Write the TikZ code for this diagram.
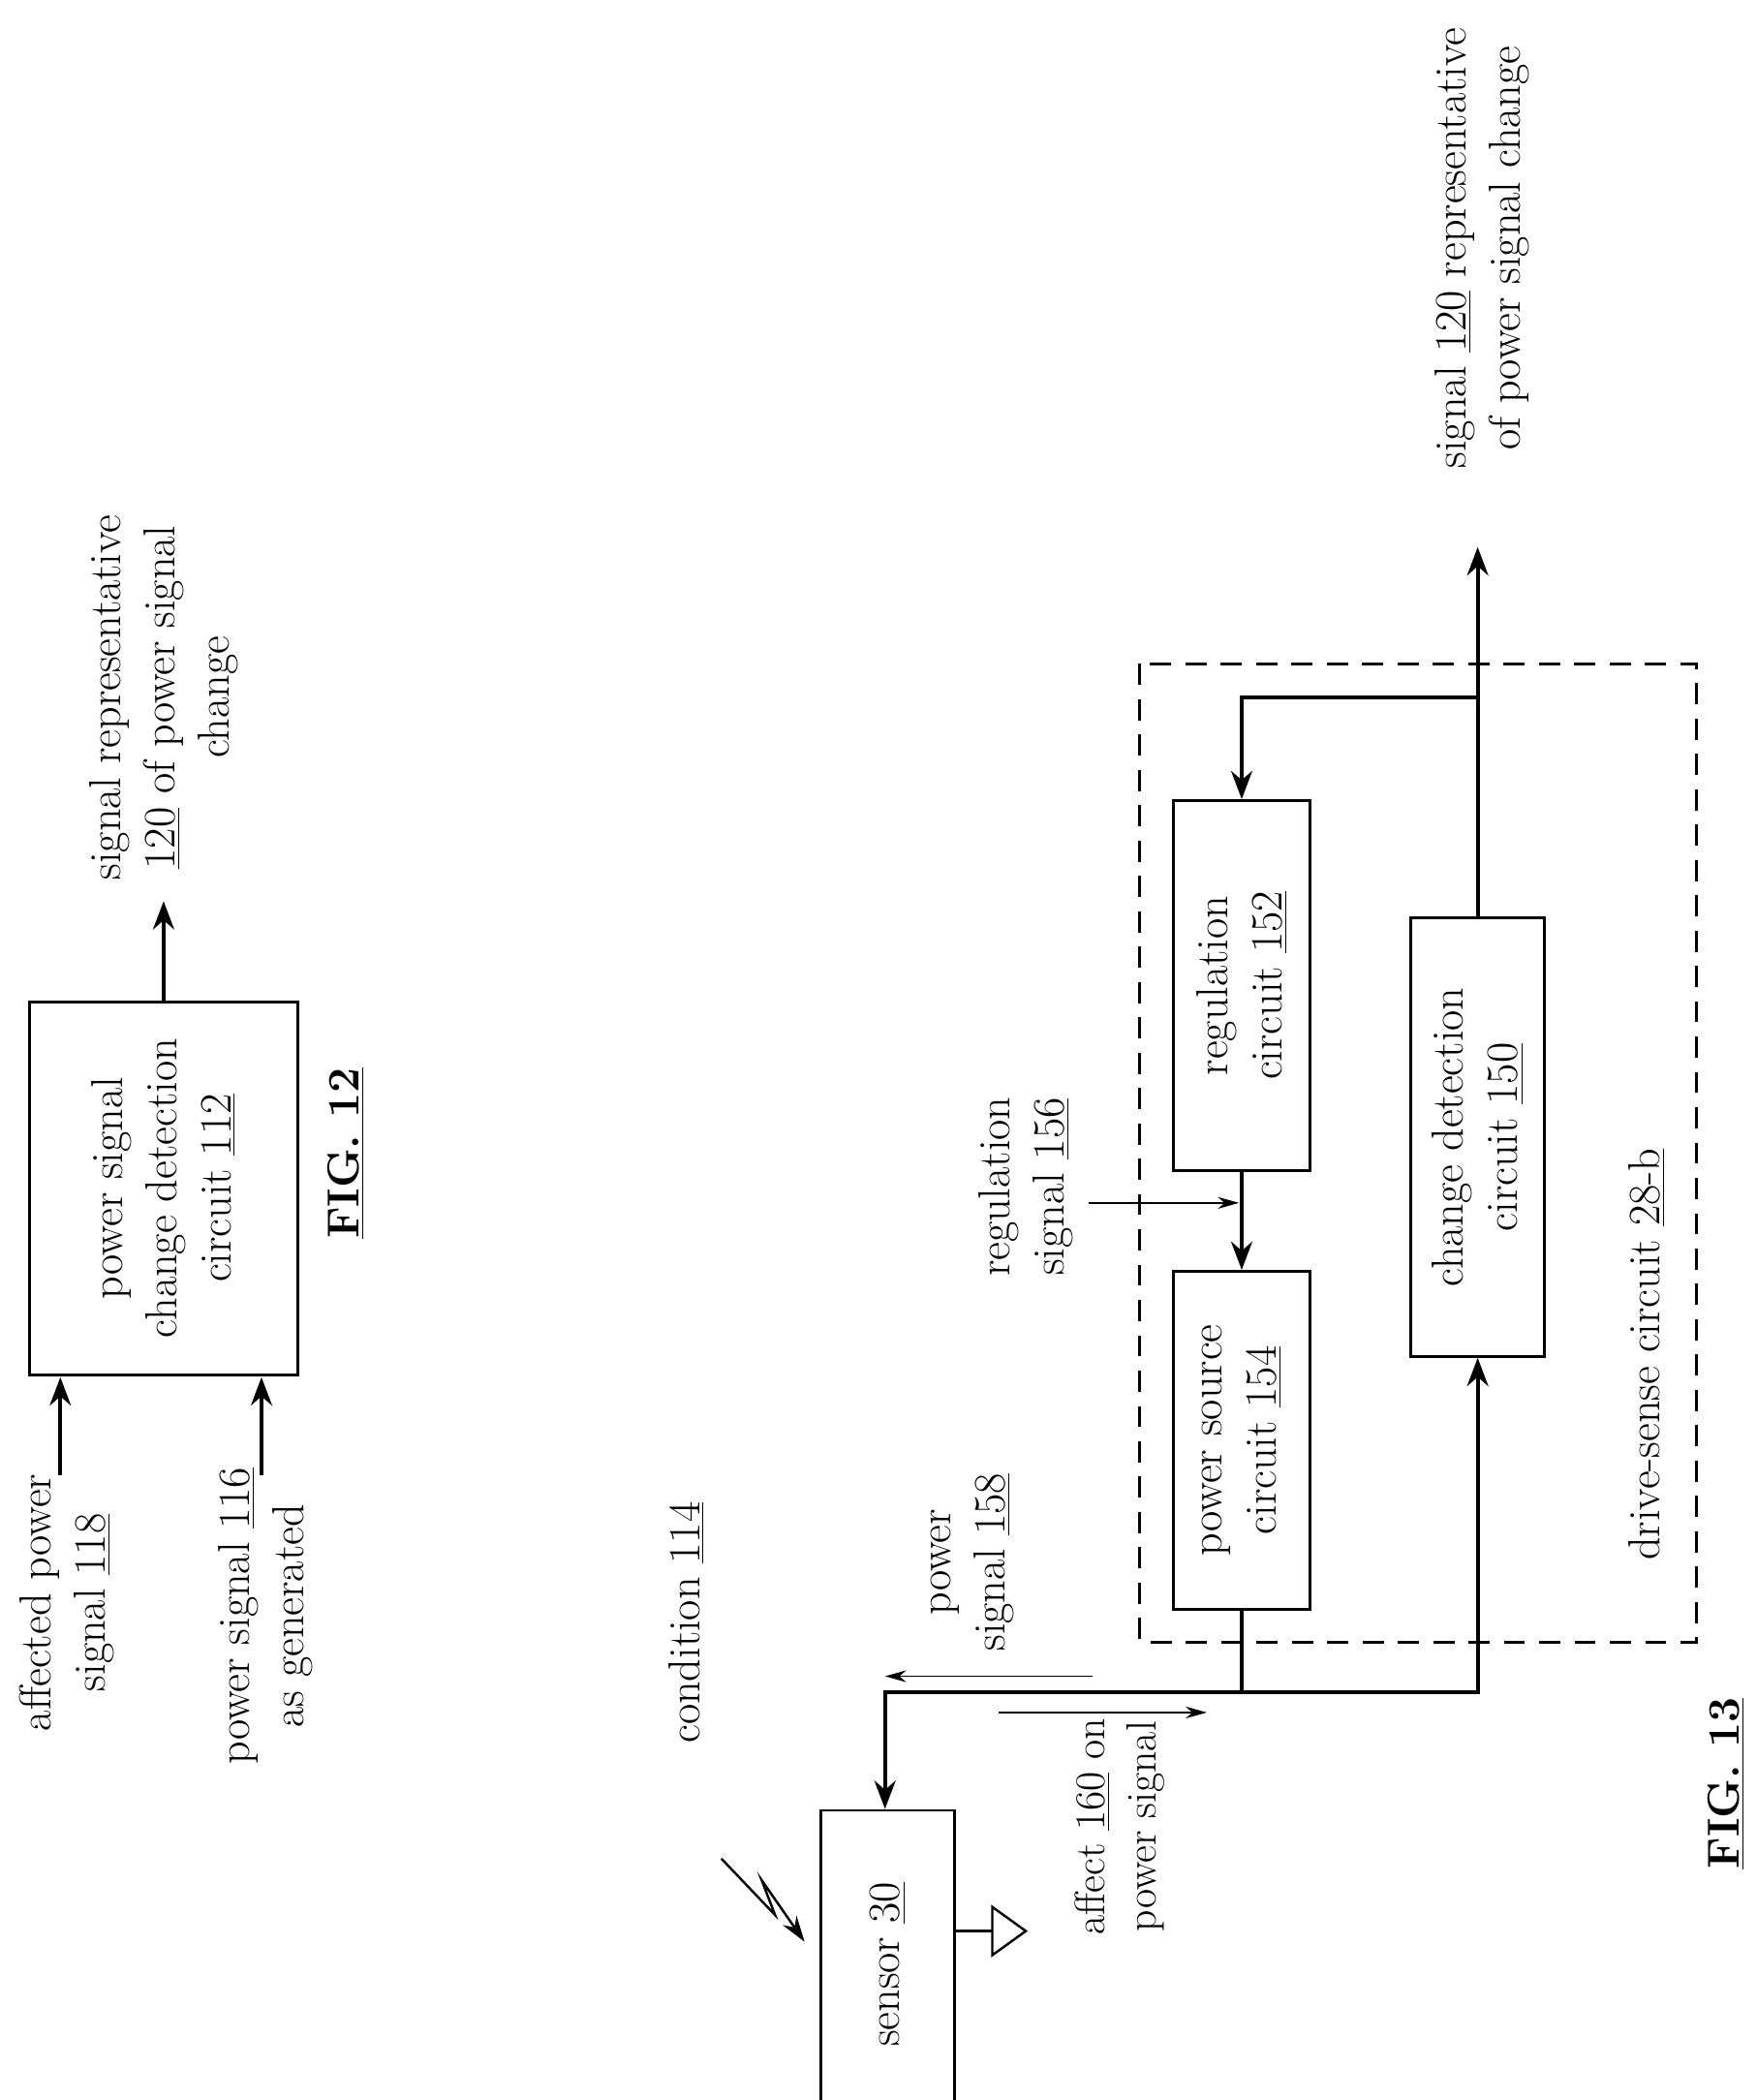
\documentclass[tikz,border=0pt]{standalone}
\usetikzlibrary{arrows.meta}
\begin{document}
\begin{tikzpicture}[x=0.02cm,y=-0.02cm,
  txt/.style={rotate=90,align=center,font=\fontsize{19}{23}\selectfont,inner sep=0},
  box/.style={draw,line width=1.2pt},
  ar/.style={line width=1.6pt,-{Stealth[length=12pt,width=9pt]}},
  thin/.style={line width=0.6pt,-{Stealth[length=9pt,width=5pt]}}]
\useasboundingbox (0,0) rectangle (1310,1566);
% FIG 12
\draw[box] (22,747) rectangle (222,1025);
\node[txt] (b112) at (122,886) {power signal\\change detection\\circuit \underline{112}};
\coordinate (o12) at (122,672);
\draw[ar] (122,747) -- (o12);
\node[txt] (l120) at (122,520) {signal representative\\\underline{120} of power signal\\change};
\coordinate (i118) at (45,1100);
\coordinate (i116) at (195,1100);
\draw[ar] (i118) -- (45,1027);
\draw[ar] (i116) -- (195,1027);
\node[txt] (l118) at (50,1195) {affected power\\signal \underline{118}};
\node[txt] (l116) at (198,1205) {power signal \underline{116}\\as generated};
\node[txt,font=\bfseries\fontsize{19}{23}\selectfont] (f12) at (258,860) {\underline{FIG. 12}};
% FIG 13
\draw[line width=1.2pt,dash pattern=on 9pt off 6pt] (850,495) rectangle (1265,1225);
\node[txt] (l28) at (1228,1010) {drive-sense circuit \underline{28-b}};
\node[box,minimum width=102*0.02cm,minimum height=276*0.02cm] (reg) at (926,735) {};
\node[txt] at (reg) {regulation\\circuit \underline{152}};
\node[box,minimum width=102*0.02cm,minimum height=252*0.02cm] (pow) at (926,1074) {};
\node[txt] at (pow) {power source\\circuit \underline{154}};
\node[box,minimum width=100*0.02cm,minimum height=327*0.02cm] (chg) at (1102,848) {};
\node[txt] at (chg) {change detection\\circuit \underline{150}};
\draw[ar] (reg.south) -- (pow.north);
\coordinate (rs) at (812,897);
\draw[thin] (rs) -- (924,897);
\node[txt] (l156) at (765,885) {regulation\\signal \underline{156}};
\coordinate (o13) at (1102,408);
\coordinate (br) at (1102,520);
\draw[ar] (chg.north) -- (o13);
\draw[ar] (br) -- (926,520) -- (reg.north);
\node[txt] (l120b) at (1105,185) {signal \underline{120} representative\\of power signal change};
\node[box,minimum width=100*0.02cm,minimum height=230*0.02cm] (sen) at (662,1465) {};
\node[txt] at (sen) {sensor \underline{30}};
\coordinate (j) at (926,1262);
\draw[line width=1.6pt] (pow.south) -- (j);
\draw[ar] (j) -- (1102,1262) -- (chg.south);
\draw[ar] (j) -- (660,1262) -- (sen.north -| 660,0);
\coordinate (p1) at (815,1250);
\draw[thin] (p1) -- (660,1250);
\node[txt] (l158) at (725,1165) {power\\signal \underline{158}};
\coordinate (a1) at (745,1277);
\draw[thin] (a1) -- (900,1277);
\node[txt,font=\fontsize{18}{22}\selectfont] (l160) at (835,1362) {affect \underline{160} on\\power signal};
\coordinate (g) at (740,1440);
\draw[line width=1pt] (712,1440) -- (g);
\draw[line width=1pt] (740,1422) -- (740,1458) -- (765,1440) -- cycle;
\node[txt] (l114) at (512,1210) {condition \underline{114}};
\coordinate (z0) at (538,1386);
\draw[line width=1pt,-{Stealth[length=11pt,width=7pt]}] (z0) -- (578,1428) -- (568,1402) -- (600,1448);
\node[txt,font=\bfseries\fontsize{19}{23}\selectfont] (f13) at (1287,1330) {\underline{FIG. 13}};
\end{tikzpicture}
\end{document}
